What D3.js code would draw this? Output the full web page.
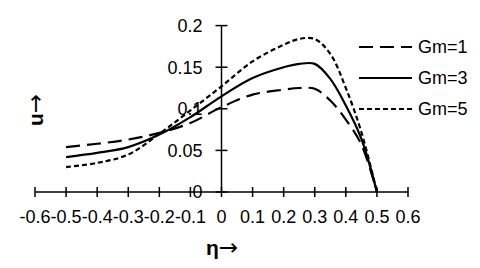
<!DOCTYPE html>
<html>
<head>
<meta charset="utf-8">
<script src="https://cdn.jsdelivr.net/npm/d3@7"></script>
<style>
  body { margin: 0; background: #fff; }
  text { font-family: "Liberation Sans", Arial, sans-serif; fill: #000; }
</style>
</head>
<body>
<div id="graphics"></div>
<script>
const etaValues = [-0.5, -0.4, -0.3, -0.2, -0.1, 0, 0.1, 0.2, 0.25, 0.3, 0.35, 0.4, 0.45, 0.5];
const gm1 = [0.054, 0.058, 0.063, 0.071, 0.083, 0.102, 0.117, 0.123, 0.125, 0.124, 0.110, 0.087, 0.057, 0];
const gm3 = [0.042, 0.047, 0.054, 0.069, 0.090, 0.115, 0.137, 0.150, 0.154, 0.154, 0.136, 0.104, 0.064, 0];
const gm5 = [0.030, 0.035, 0.045, 0.070, 0.098, 0.127, 0.157, 0.177, 0.184, 0.184, 0.166, 0.125, 0.072, 0];
const seriesNames = ["Gm=1", "Gm=3", "Gm=5"];
const xTicks = [-0.6, -0.5, -0.4, -0.3, -0.2, -0.1, 0, 0.1, 0.2, 0.3, 0.4, 0.5, 0.6];
const yTicks = [0, 0.05, 0.1, 0.15, 0.2];

const width = 480, height = 268;

let svg = d3.select("#graphics")
    .append("svg")
    .attr("width", width)
    .attr("height", height);

let x = d3.scaleLinear().domain([-0.6, 0.6]).range([35, 408]);
let y = d3.scaleLinear().domain([0, 0.2]).range([192, 25.6]);

// x axis, ticks crossing the line
let xAxis = svg.append("g");
xAxis.append("line")
    .attr("x1", x(-0.6)).attr("x2", x(0.6))
    .attr("y1", y(0)).attr("y2", y(0))
    .attr("stroke", "#000").attr("stroke-width", 1.5);
xAxis.selectAll("line.tick")
    .data(xTicks)
    .enter()
    .append("line")
    .attr("class", "tick")
    .attr("x1", d => x(d)).attr("x2", d => x(d))
    .attr("y1", y(0) - 5).attr("y2", y(0) + 5)
    .attr("stroke", "#000").attr("stroke-width", 1.5);
xAxis.selectAll("text")
    .data(xTicks)
    .enter()
    .append("text")
    .attr("x", d => x(d))
    .attr("y", y(0) + 31)
    .attr("text-anchor", "middle")
    .style("font-size", "18px")
    .text(d => String(+d.toFixed(1)));

// y axis
let yAxis = svg.append("g");
yAxis.append("line")
    .attr("x1", x(0)).attr("x2", x(0))
    .attr("y1", y(0)).attr("y2", y(0.2))
    .attr("stroke", "#000").attr("stroke-width", 1.5);
yAxis.selectAll("line.tick")
    .data(yTicks)
    .enter()
    .append("line")
    .attr("class", "tick")
    .attr("x1", x(0) - 6).attr("x2", x(0) + 6)
    .attr("y1", d => y(d)).attr("y2", d => y(d))
    .attr("stroke", "#000").attr("stroke-width", 1.5);
yAxis.selectAll("text")
    .data(yTicks)
    .enter()
    .append("text")
    .attr("x", x(0) - 19)
    .attr("y", d => y(d))
    .attr("dy", "0.35em")
    .attr("text-anchor", "end")
    .style("font-size", "18px")
    .text(d => +d.toFixed(2));

// axis titles, arrow drawn in DejaVu so it is full width
let etaTitle = svg.append("text")
    .attr("x", 222)
    .attr("y", 255)
    .attr("text-anchor", "middle")
    .style("font-size", "21px");
etaTitle.append("tspan").style("font-weight", "bold").text("η");
etaTitle.append("tspan").style("font-family", "DejaVu Sans").style("font-size", "23px").text("→");

let uTitle = svg.append("text")
    .attr("transform", "translate(43,110) rotate(-90)")
    .attr("text-anchor", "middle")
    .style("font-size", "21px");
uTitle.append("tspan").style("font-weight", "bold").text("u");
uTitle.append("tspan").style("font-family", "DejaVu Sans").style("font-size", "23px").text("→");

// curves
const dashes = ["14,7", null, "5,3"];
const allSeries = [gm1, gm3, gm5];
let line = d3.line()
    .x(d => x(d[0]))
    .y(d => y(d[1]))
    .curve(d3.curveCatmullRom.alpha(0.5));

allSeries.forEach(function (vals, i) {
    svg.append("path")
        .datum(etaValues.map((e, k) => [e, vals[k]]))
        .attr("d", line)
        .attr("fill", "none")
        .attr("stroke", "#000")
        .attr("stroke-width", 2.2)
        .attr("stroke-dasharray", dashes[i]);
});

// legend
let legendY = [47, 78, 109];
seriesNames.forEach(function (name, i) {
    svg.append("line")
        .attr("x1", 359).attr("x2", 412)
        .attr("y1", legendY[i]).attr("y2", legendY[i])
        .attr("stroke", "#000")
        .attr("stroke-width", 2.2)
        .attr("stroke-dasharray", dashes[i]);
    svg.append("text")
        .attr("x", 418)
        .attr("y", legendY[i])
        .attr("dy", "0.35em")
        .style("font-size", "18px")
        .text(name);
});
</script>
</body>
</html>
